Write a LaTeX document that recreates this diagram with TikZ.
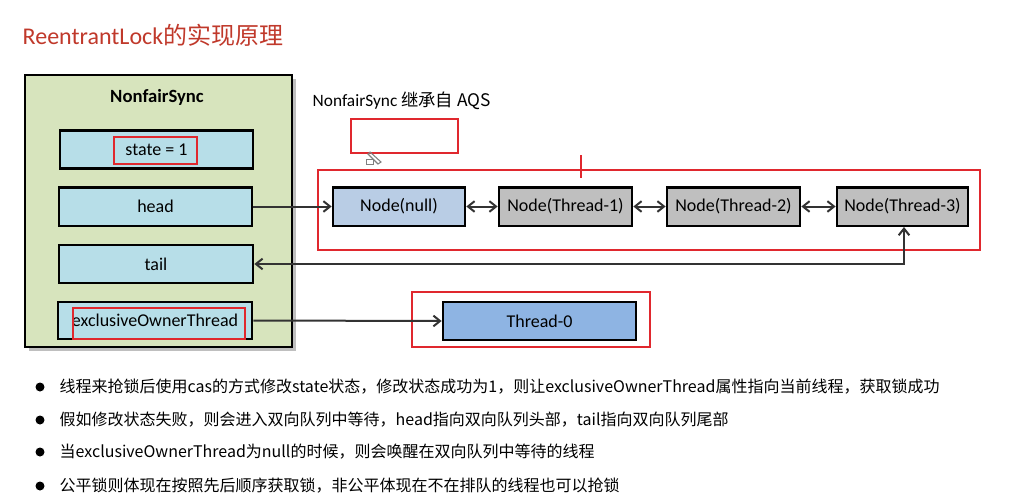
\documentclass[tikz,border=0pt]{standalone}
\usepackage{fontspec}
\setmainfont{Carlito}
\newfontfamily\cjk{Noto Sans CJK SC}
\usetikzlibrary{arrows.meta,shadows}
\begin{document}
\begin{tikzpicture}[x=0.75pt,y=-0.75pt,
 fld/.style={draw=black,line width=2pt,fill=blueA,font=\fontsize{13.5}{15}\selectfont},
 qn/.style={draw=black,line width=2pt,font=\fontsize{13.5}{15}\selectfont},
 redb/.style={draw=redC,line width=1.2pt},
 arr/.style={draw=gray!40!black,line width=1.5pt,-{Straight Barb[length=5pt,width=8pt]}},
 darr/.style={draw=gray!40!black,line width=1.5pt,{Straight Barb[length=5pt,width=8pt]}-{Straight Barb[length=5pt,width=8pt]}},
 bul/.style={anchor=west,font=\fontsize{12}{14}\selectfont\cjk}]
\definecolor{blueA}{HTML}{B7DEE8}
\definecolor{greenA}{HTML}{D7E4BD}
\definecolor{redC}{HTML}{E0282E}
\definecolor{titleC}{HTML}{C0392B}
\definecolor{nb}{HTML}{B9CDE5}
\definecolor{tb}{HTML}{8EB4E3}
\useasboundingbox (0,0) rectangle (1014,500);
\node[anchor=west,text=titleC,font=\fontsize{18}{20}\selectfont] (title) at (18,35) {ReentrantLock\cjk{的实现原理}};
\fill[black!25] (29,79) rectangle (296,351);
\draw[line width=2.2pt,fill=greenA] (25,75) rectangle (292,347);
\node[font=\fontsize{14}{16}\selectfont\bfseries] (ns) at (157,97) {NonfairSync};
\node[fld,minimum width=144.75pt,minimum height=28.5pt] (state) at (156.5,149.5) {state = 1};
\node[fld,minimum width=144.75pt,minimum height=29pt] (head) at (155.5,206.5) {head};
\node[fld,minimum width=145.5pt,minimum height=28.5pt] (tail) at (156,264) {tail};
\node[fld,minimum width=145.5pt,minimum height=27.75pt] (eot) at (155,320.5) {exclusiveOwnerThread};
\draw[redb] (114,137) rectangle (197,164);
\draw[redb] (73,308) rectangle (245,339);
\node[anchor=west,font=\fontsize{13}{15}\selectfont] (aqs) at (308,101) {NonfairSync \cjk{继承自} AQS};
\draw[redb] (351,119) rectangle (458,153);
\draw[gray,line width=0.6pt] (366,159) rectangle (373,164);
\draw[gray,line width=0.8pt] (370,152) -- (381,162) -- (378,164) -- (368,154) -- cycle;
\draw[redb] (318,170) rectangle (980,250);
\draw[redC,line width=1.5pt] (581,155) -- (581,178);
\node[qn,fill=nb,minimum width=99pt,minimum height=29pt] (n0) at (399,206.5) {Node(null)};
\node[qn,fill=black!25,minimum width=99.75pt,minimum height=29pt] (n1) at (565.5,206.5) {Node(Thread-1)};
\node[qn,fill=black!25,minimum width=99.75pt,minimum height=29pt] (n2) at (733.5,206.5) {Node(Thread-2)};
\node[qn,fill=black!25,minimum width=98.25pt,minimum height=29pt] (n3) at (902.5,206.5) {Node(Thread-3)};
\draw[redb] (412,292) rectangle (650,347);
\node[qn,fill=tb,minimum width=144.75pt,minimum height=28.5pt] (t0) at (539.5,321) {Thread-0};
\draw[arr] (head.east) -- (n0.west);
\draw[darr] (n0) -- (n1);
\draw[darr] (n1) -- (n2);
\draw[darr] (n2) -- (n3);
\draw[darr] (tail.east) -| (904,227);
\draw[arr] (eot.east) -- (t0.west);
\foreach \y/\t in {387/{线程来抢锁后使用cas的方式修改state状态，修改状态成功为1，则让exclusiveOwnerThread属性指向当前线程，获取锁成功},
420/{假如修改状态失败，则会进入双向队列中等待，head指向双向队列头部，tail指向双向队列尾部},
452/{当exclusiveOwnerThread为null的时候，则会唤醒在双向队列中等待的线程},
486/{公平锁则体现在按照先后顺序获取锁，非公平体现在不在排队的线程也可以抢锁}}{
 \fill (40,\y) circle (4.5);
 \node[bul] at (55,\y) {\t};
}
\end{tikzpicture}
\end{document}
